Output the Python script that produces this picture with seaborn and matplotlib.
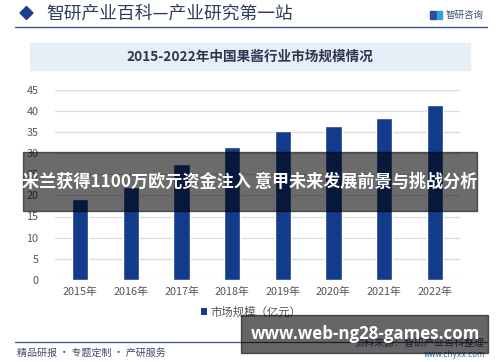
import matplotlib
matplotlib.use("Agg")
import matplotlib.pyplot as plt
import seaborn as sns
import pandas as pd
from matplotlib.patches import Rectangle, Patch, Polygon
from matplotlib.lines import Line2D

years = ["2015年", "2016年", "2017年", "2018年", "2019年", "2020年", "2021年", "2022年"]
market_size = [19.1, 22.0, 27.3, 31.4, 35.3, 36.3, 38.2, 41.3]
y_ticks = [0, 5, 10, 15, 20, 25, 30, 35, 40, 45]
series_name = "市场规模（亿元）"
header_text = "智研产业百科—产业研究第一站"
title_text = "2015-2022年中国果酱行业市场规模情况"
overlay_text = "米兰获得1100万欧元资金注入 意甲未来发展前景与挑战分析"
url_text = "www.web-ng28-games.com"

sns.set_theme(style="white")
plt.rcParams['font.family'] = ['Noto Sans CJK SC', 'DejaVu Sans']

W, H = 500, 362
fig = plt.figure(figsize=(W / 100, H / 100), dpi=100)
fig.patch.set_facecolor("white")

def fx(x):
    return x / W

def fy(y):
    return 1 - y / H

def rect(x0, y0, x1, y1, **kw):
    fig.patches.append(Rectangle((fx(x0), fy(y1)), fx(x1) - fx(x0), fy(y0) - fy(y1),
                                 transform=fig.transFigure, **kw))

def text(x, y, s, **kw):
    fig.text(fx(x), fy(y), s, **kw)

# axes
ax_l, ax_r, ax_t, ax_b = 55, 460, 89.5, 280
ax = fig.add_axes([fx(ax_l), fy(ax_b), fx(ax_r) - fx(ax_l), fy(ax_t) - fy(ax_b)])
df = pd.DataFrame({"year": years, "value": market_size})
sns.barplot(data=df, x="year", y="value", color="#123b8b", width=0.32, ax=ax,
            saturation=1, zorder=3)
ax.set_ylim(0, 45)
ax.set_yticks(y_ticks)
ax.set_xlim(-0.5, len(years) - 0.5)
ax.set_xlabel("")
ax.set_ylabel("")
ax.grid(axis="y", color="#dcdcdc", linewidth=0.9, zorder=0)
for s in ax.spines.values():
    s.set_visible(False)
ax.tick_params(axis="both", length=0, labelsize=7.8, labelcolor="#555555")
ax.tick_params(axis="y", pad=12)
ax.tick_params(axis="x", pad=5)
ax.patch.set_alpha(0)

# legend
fig.legend(handles=[Patch(facecolor="#123b8b", edgecolor="none")], labels=[series_name],
           loc="center", bbox_to_anchor=(fx(251), fy(312)), frameon=False,
           fontsize=8.2, labelcolor="#555555", handlelength=0.5, handleheight=0.5,
           handletextpad=0.3, borderaxespad=0)

# header
fig.patches.append(Polygon([[fx(20), fy(13)], [fx(26.5), fy(6.5)], [fx(33), fy(13)], [fx(26.5), fy(19.5)]],
                           closed=True, transform=fig.transFigure, color="#1d3f8a"))
text(46, 13.5, header_text, fontsize=12.8, fontweight="medium", color="#2e3d5c", va="center", ha="left")
fig.add_artist(Line2D([fx(15), fx(487)], [fy(27), fy(27)], transform=fig.transFigure,
                      color="#3c5288", linewidth=1.0))
rect(430, 11, 436, 19, color="#2b4f9a")
rect(437, 11, 442, 19, color="#34a0d8")
text(446, 15, "智研咨询", fontsize=6.8, color="#3a4a6a", va="center", ha="left")

# title box
rect(30, 43, 470, 70, color="#e8eef8")
text(250, 57, title_text, fontsize=9.8, fontweight="bold", color="#2d3550", va="center", ha="center")

# footer
fig.add_artist(Line2D([fx(15), fx(487)], [fy(341.5), fy(341.5)], transform=fig.transFigure,
                      color="#3c5288", linewidth=0.9))
text(17, 352.5, "精品研报 · 专题定制 · 产研服务", fontsize=7.2, color="#3d4a6b", va="center", ha="left")
text(485, 343, "资料来源：智研产业百科整理", fontsize=7.2, color="#3d4a6b", va="center", ha="right")
text(485, 354.5, "www.chyxx.com", fontsize=5.5, color="#3a6fb5", va="center", ha="right",
     family=["DejaVu Sans"])

# overlays
rect(23, 152, 477, 211, color="black", alpha=0.58, zorder=10)
text(250, 181.5, overlay_text, fontsize=12.3, fontweight="bold", color="white",
     va="center", ha="center", zorder=11)
rect(241, 315, 488, 353, color="black", alpha=0.6, zorder=10)
text(366, 334, url_text, fontsize=12.2, fontweight="bold", color="white",
     va="center", ha="center", zorder=11, family=["Open Sans", "DejaVu Sans"])

fig.savefig("out.png", dpi=100)
